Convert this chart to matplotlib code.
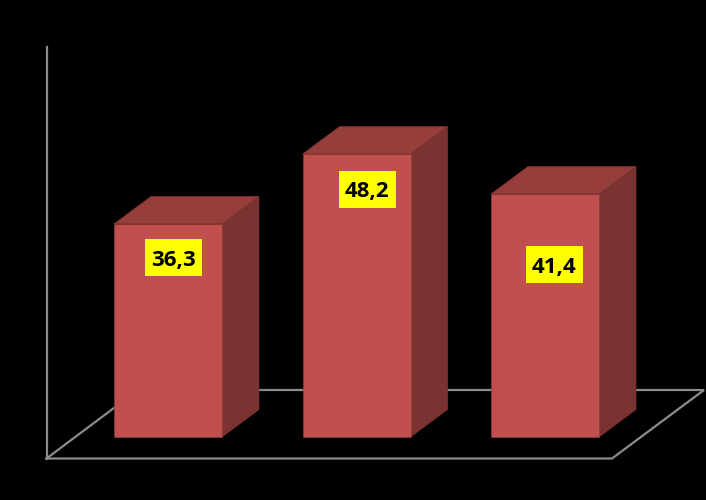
import matplotlib
matplotlib.use("Agg")
import matplotlib.pyplot as plt
from matplotlib.patches import Polygon, Rectangle

categories = [0, 1, 2]
values = [36.3, 48.2, 41.4]
labels = ["36,3", "48,2", "41,4"]

W, H = 706, 500
PX_PER_UNIT = 5.87     # vertical scale
PX_PER_CAT = 188.5     # horizontal scale
BASE_PX = 437
CENTER0_PX = 168

fig = plt.figure(figsize=(W / 100, H / 100), dpi=100, facecolor="black")
ax = fig.add_axes([0, 0, 1, 1], facecolor="black")
ax.set_xlim(-CENTER0_PX / PX_PER_CAT, (W - CENTER0_PX) / PX_PER_CAT)
ax.set_ylim(-(H - BASE_PX) / PX_PER_UNIT, BASE_PX / PX_PER_UNIT)
ax.axis("off")

def X(px):
    return (px - CENTER0_PX) / PX_PER_CAT

def Y(px):
    return (BASE_PX - px) / PX_PER_UNIT

bar_w = 108 / PX_PER_CAT
dx = 37 / PX_PER_CAT
dy = 27.5 / PX_PER_UNIT

GRID = "#8C8C8C"
FRONT = "#C0504D"
TOP = "#953E3B"
SIDE = "#7B3331"
EDGE = "#8A3A38"

# Axis wall and floor outline
ax.plot([X(46.5), X(46.5)], [Y(458.5), Y(47)], color=GRID, lw=1.6, zorder=1)
ax.plot([X(46.5), X(612), X(704), X(138), X(46.5)],
        [Y(458.5), Y(458.5), Y(390), Y(390), Y(458.5)],
        color=GRID, lw=1.6, zorder=1, solid_joinstyle="miter")

label_drop_px = [34, 35, 71]
label_shift_px = [5.5, 10.5, 9]
box_w, box_h = 57 / PX_PER_CAT, 37 / PX_PER_UNIT

for c, v, t, drop, shift in zip(categories, values, labels, label_drop_px, label_shift_px):
    l, r = c - bar_w / 2, c + bar_w / 2
    ax.add_patch(Polygon([(r, 0), (r + dx, dy), (r + dx, v + dy), (r, v)],
                         fc=SIDE, ec=SIDE, lw=0.5, zorder=2))
    ax.add_patch(Polygon([(l, v), (r, v), (r + dx, v + dy), (l + dx, v + dy)],
                         fc=TOP, ec=SIDE, lw=0.5, zorder=2))
    ax.add_patch(Rectangle((l, 0), bar_w, v, fc=FRONT, ec=EDGE, lw=0.5, zorder=3))
    cx = c + shift / PX_PER_CAT
    cy = v - drop / PX_PER_UNIT
    ax.add_patch(Rectangle((cx - box_w / 2, cy - box_h / 2), box_w, box_h,
                           fc="#FFFF00", ec="none", zorder=4))
    ax.text(cx, cy, t, ha="center", va="center_baseline", fontsize=16,
            fontweight="bold", family="Open Sans", color="black", zorder=5)

fig.savefig("out.png", dpi=100, facecolor="black")
